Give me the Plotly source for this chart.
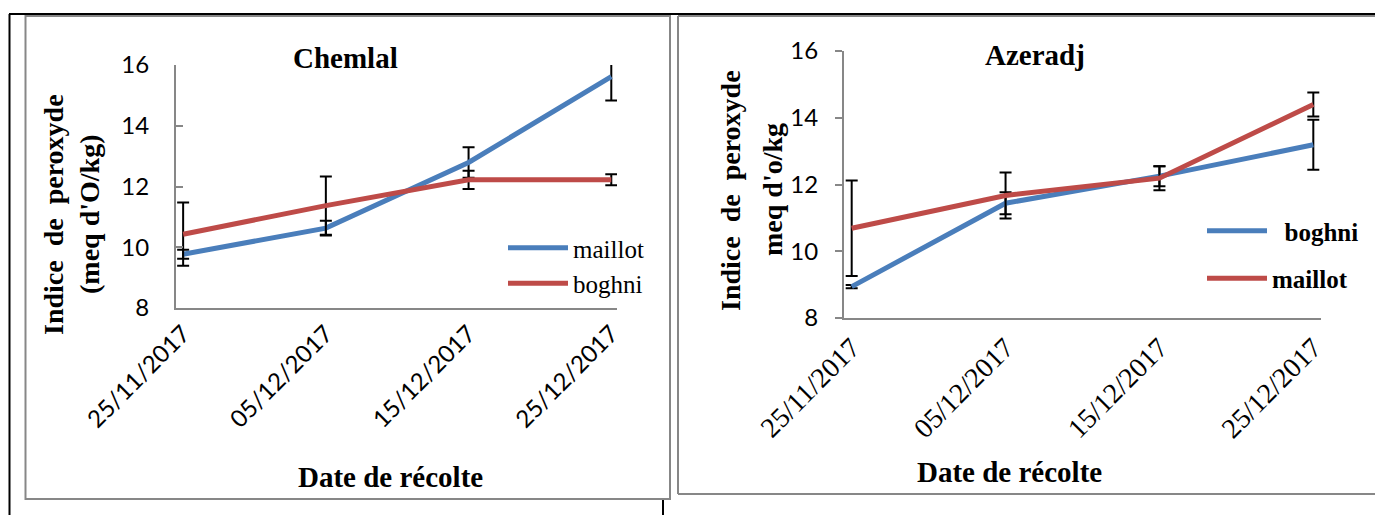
import plotly.graph_objects as go

# ---------------- data ----------------
dates = ["25/11/2017", "05/12/2017", "15/12/2017", "25/12/2017"]
yticks = [8, 10, 12, 14, 16]

chemlal_maillot = [9.77, 10.63, 12.79, 15.62]
chemlal_maillot_err = [0.15, 0.24, 0.50, 0.79]
chemlal_boghni = [10.43, 11.37, 12.22, 12.22]
chemlal_boghni_err = [1.04, 0.96, 0.30, 0.18]

azeradj_boghni = [8.94, 11.44, 12.25, 13.19]
azeradj_boghni_err = [0.05, 0.33, 0.30, 0.75]
azeradj_maillot = [10.69, 11.67, 12.19, 14.40]
azeradj_maillot_err = [1.43, 0.69, 0.36, 0.36]

# ---------------- style ----------------
W, H = 1375, 515
BLUE = "#4A7EBB"
RED = "#BE4B48"
GREY = "#878787"
SERIF = "Liberation Serif"
SANS = "Lato"


def px(x):
    return x / W


def py(y):
    return 1 - y / H


def err(vals):
    return dict(type="data", array=vals, visible=True, color="black",
                thickness=2, width=6)


fig = go.Figure()

fig.add_trace(go.Scatter(x=dates, y=chemlal_maillot, name="maillot", mode="lines",
                         line=dict(color=BLUE, width=5), error_y=err(chemlal_maillot_err),
                         xaxis="x", yaxis="y", legend="legend"))
fig.add_trace(go.Scatter(x=dates, y=chemlal_boghni, name="boghni", mode="lines",
                         line=dict(color=RED, width=5), error_y=err(chemlal_boghni_err),
                         xaxis="x", yaxis="y", legend="legend"))
fig.add_trace(go.Scatter(x=dates, y=azeradj_boghni, name="\u00a0\u00a0boghni", mode="lines",
                         line=dict(color=BLUE, width=5), error_y=err(azeradj_boghni_err),
                         xaxis="x2", yaxis="y2", legend="legend2", legendgroup="a"))
fig.add_trace(go.Scatter(x=dates, y=azeradj_maillot, name="maillot", mode="lines",
                         line=dict(color=RED, width=5), error_y=err(azeradj_maillot_err),
                         xaxis="x2", yaxis="y2", legend="legend2", legendgroup="b"))

xcommon = dict(type="category", showline=True, linecolor=GREY, linewidth=2,
               ticks="", tickangle=-45, showgrid=False, zeroline=False,
               fixedrange=True, automargin=False)
ycommon = dict(range=[8, 16], tickvals=yticks, showline=True, linecolor=GREY,
               linewidth=2, tickcolor=GREY, tickwidth=2, ticklen=7,
               showgrid=False, zeroline=False, automargin=False,
               tickfont=dict(family=SANS, size=24, color="black"))

fig.update_layout(
    template="none",
    width=W, height=H,
    margin=dict(l=0, r=0, t=0, b=0, pad=0, autoexpand=False),
    paper_bgcolor="white", plot_bgcolor="white",
    xaxis=dict(domain=[px(176), px(617)], anchor="y", range=[-0.05, 3.04],
               tickfont=dict(family=SANS, size=24, color="black"), **xcommon),
    yaxis=dict(domain=[py(308), py(65)], anchor="x", ticks="inside",
               ticklabelstandoff=20, **ycommon),
    xaxis2=dict(domain=[px(844), px(1321)], anchor="y2", range=[-0.05, 3.05],
                tickfont=dict(family=SERIF, size=28, color="black"), **xcommon),
    yaxis2=dict(domain=[py(318), py(51)], anchor="x2", ticks="outside",
                ticklabelstandoff=12, **ycommon),
    legend=dict(x=px(503), y=py(225), xanchor="left", yanchor="top",
                bgcolor="rgba(0,0,0,0)", itemwidth=60,
                font=dict(family=SERIF, size=25, color="black")),
    legend2=dict(x=px(1202), y=py(208), xanchor="left", yanchor="top",
                 bgcolor="rgba(0,0,0,0)", itemwidth=60, tracegroupgap=12,
                 traceorder="grouped",
                 font=dict(family=SERIF, size=25, color="black", weight="bold")),
    showlegend=True,
)

bold = dict(family=SERIF, color="black", weight="bold")
ann = [
    dict(text="Chemlal", x=px(345), y=py(58), size=29, angle=0),
    dict(text="Azeradj", x=px(1035), y=py(55), size=29, angle=0),
    dict(text="Date de récolte", x=px(390), y=py(477), size=29, angle=0),
    dict(text="Date de récolte", x=px(1010), y=py(472), size=29, angle=0),
    dict(text="Indice\u00a0 de\u00a0 peroxyde", x=px(53), y=py(215), size=28, angle=-90),
    dict(text="(meq d'O/kg)", x=px(89), y=py(215), size=28, angle=-90),
    dict(text="Indice\u00a0 de\u00a0 peroxyde", x=px(731), y=py(191), size=28, angle=-90),
    dict(text="meq d'o/kg", x=px(772), y=py(190), size=28, angle=-90),
]
for a in ann:
    fig.add_annotation(text=a["text"], x=a["x"], y=a["y"], xref="paper", yref="paper",
                       xanchor="center", yanchor="middle", showarrow=False,
                       textangle=a["angle"], font=dict(size=a["size"], **bold))

# frame lines
def line(x0, y0, x1, y1, color, width):
    fig.add_shape(type="line", xref="paper", yref="paper",
                  x0=px(x0), y0=py(y0), x1=px(x1), y1=py(y1),
                  line=dict(color=color, width=width))

line(9, 14, 1375, 14, "black", 2)
line(9.5, 14, 9.5, 515, "black", 2)
line(663, 499, 663, 515, "black", 2)
fig.add_shape(type="rect", xref="paper", yref="paper",
              x0=px(25.5), y0=py(499), x1=px(670), y1=py(16),
              line=dict(color=GREY, width=2))
line(678, 16, 1375, 16, GREY, 2)
line(678, 16, 678, 494, GREY, 2)
line(678, 494, 1375, 494, GREY, 2)

fig.write_html("out.html",
               config={"displayModeBar": False},
               post_script="document.body.style.margin='0';document.body.style.overflow='hidden';")
